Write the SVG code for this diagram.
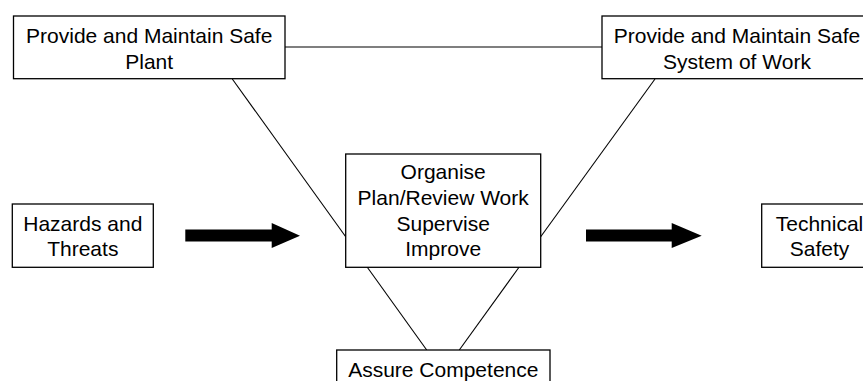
<svg xmlns="http://www.w3.org/2000/svg" width="863" height="381" viewBox="0 0 863 381">
<style>
.box{fill:#fff;stroke:#000;stroke-width:1.3}
.ln{stroke:#000;stroke-width:1.1;fill:none}
text{font-family:"Liberation Sans",Arial,sans-serif;font-size:21px;fill:#000;text-anchor:middle}
</style>
<rect width="863" height="381" fill="#fff"/>
<g id="connectors">
<line class="ln" x1="285" y1="47" x2="602" y2="47"/>
<line class="ln" x1="232.3" y1="79" x2="345.7" y2="236.7"/>
<line class="ln" x1="655" y1="79" x2="540.7" y2="236.7"/>
<line class="ln" x1="367.3" y1="267.3" x2="426.7" y2="350"/>
<line class="ln" x1="519" y1="267.3" x2="459.3" y2="350"/>
<polygon points="185.3,229.5 271.7,229.5 271.7,223 300,235.7 271.7,248 271.7,241.5 185.3,241.5" fill="#000"/>
<polygon points="586,229.5 671.7,229.5 671.7,223 701.7,235.7 671.7,248 671.7,241.5 586,241.5" fill="#000"/>
</g>
<g id="plant">
<rect class="box" x="13.5" y="16" width="271.5" height="62.7"/>
<text x="149.2" y="43.3">Provide and Maintain Safe</text>
<text x="149.2" y="69">Plant</text>
</g>
<g id="system">
<rect class="box" x="602" y="16" width="270" height="62.7"/>
<text x="737" y="43.3">Provide and Maintain Safe</text>
<text x="737" y="69">System of Work</text>
</g>
<g id="center">
<rect class="box" x="345.7" y="154" width="195" height="113.3"/>
<text x="443.2" y="179.3">Organise</text>
<text x="443.2" y="205">Plan/Review Work</text>
<text x="443.2" y="230.5">Supervise</text>
<text x="443.2" y="256">Improve</text>
</g>
<g id="hazards">
<rect class="box" x="12.3" y="204" width="141" height="63.3"/>
<text x="82.8" y="230.7">Hazards and</text>
<text x="82.8" y="256">Threats</text>
</g>
<g id="technical">
<rect class="box" x="761.7" y="204" width="116" height="63.3"/>
<text x="819.5" y="230.7">Technical</text>
<text x="819.5" y="256">Safety</text>
</g>
<g id="competence">
<rect class="box" x="336.7" y="350" width="213.3" height="45"/>
<text x="443.3" y="376.5">Assure Competence</text>
</g>
</svg>
